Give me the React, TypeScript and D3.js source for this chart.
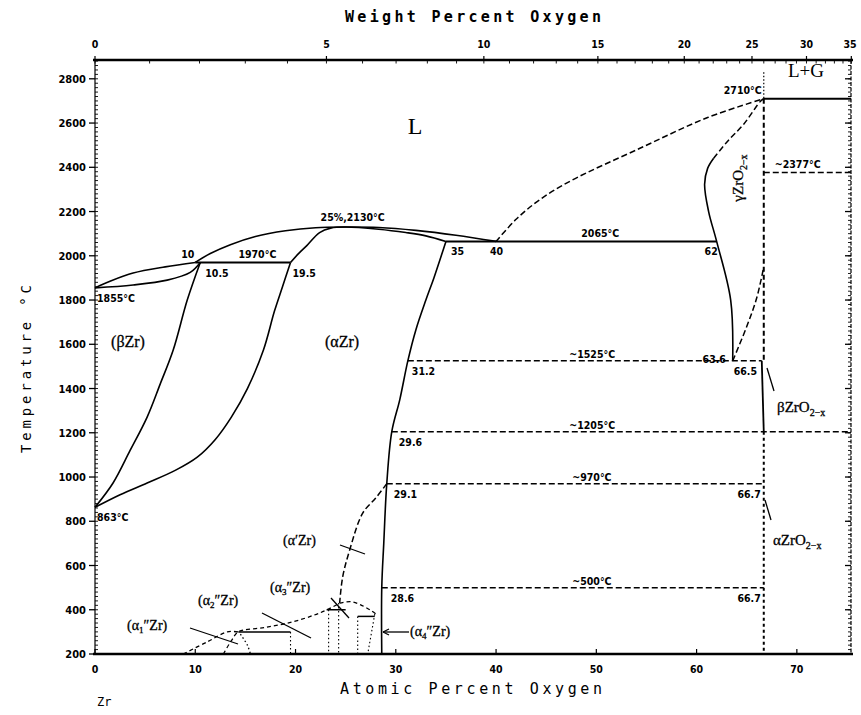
import React from "react";
import * as d3 from "d3";

const WIDTH = 861;
const HEIGHT = 715;

// Axis ticks
const tempTicks = [200, 400, 600, 800, 1000, 1200, 1400, 1600, 1800, 2000, 2200, 2400, 2600, 2800];
const atomicTicks = [0, 10, 20, 30, 40, 50, 60, 70];
const weightTicks = [0, 5, 10, 15, 20, 25, 30, 35];

type Pt = [number, number];

// Phase boundaries as [atomic % O, temperature °C]
const betaLiquidus: Pt[] = [[0, 1855], [1.5, 1885], [3.8, 1922], [7, 1950], [10, 1970]];
const betaSolidus: Pt[] = [[0, 1855], [3.8, 1868], [7.2, 1890], [9.5, 1925], [10.5, 1970]];
const betaTransus: Pt[] = [[0, 863], [1.8, 973], [3.5, 1120], [5.2, 1271], [6.5, 1420], [7.8, 1574], [9.2, 1800], [10.5, 1970]];
const alphaSolvus: Pt[] = [[0, 863], [2.5, 920], [5.2, 973], [8, 1030], [10.2, 1090], [12, 1170], [13.6, 1271], [15.2, 1400], [16.8, 1574], [17.9, 1750], [18.7, 1860], [19.5, 1970]];
const alphaLiquidus: Pt[] = [[10, 1970], [11.5, 2010], [13.5, 2050], [16, 2087], [19, 2113], [22, 2127], [25, 2130], [28.3, 2128], [32, 2115], [36, 2093], [40, 2065]];
const alphaSolidus: Pt[] = [[19.5, 1970], [20.3, 2010], [21.1, 2045], [22.4, 2105], [23.5, 2125], [25, 2130], [28.3, 2120], [31, 2105], [33, 2090], [35, 2065]];
const alphaOxideBoundary: Pt[] = [[35, 2065], [33.8, 1900], [33, 1800], [32, 1665], [31.2, 1525], [30.4, 1350], [29.6, 1205], [29.1, 970], [28.8, 700], [28.6, 500], [28.6, 200]];
const oxideLiquidus: Pt[] = [[40, 2065], [42, 2165], [44.4, 2255], [47.5, 2340], [54.4, 2487], [61.1, 2625], [66.7, 2710]];
const gammaLeftSolid: Pt[] = [[63.6, 1525], [63.4, 1800], [62, 2065], [61.2, 2200], [60.8, 2323], [61.1, 2395], [61.7, 2441]];
const gammaLeftDashed: Pt[] = [[61.7, 2441], [63.1, 2518], [64.7, 2595], [66.4, 2700], [66.7, 2710]];
const gammaRight: Pt[] = [[63.6, 1525], [65.0, 1680], [66.0, 1810], [66.7, 1950]];
const betaOxideLeft: Pt[] = [[66.5, 1525], [66.7, 1205]];

// Low-temperature ordered phases
const alphaPrime: Pt[] = [[29.1, 970], [28, 905], [26.7, 837], [25.4, 670], [24.7, 548], [24.4, 430]];
const alpha1Dome: Pt[] = [[8.8, 200], [11.2, 255], [13.2, 300], [14.3, 300]];
const alpha1Right: Pt[] = [[14.5, 290], [15.2, 240], [15.5, 200]];
const alpha2Dome: Pt[] = [[12.8, 200], [13.6, 260], [14.3, 300], [17, 320], [19.7, 345], [21.8, 375], [23.1, 399], [24.4, 430]];
const alpha3Dome: Pt[] = [[24.4, 430], [25.5, 437], [26.5, 422], [27.5, 397], [28.2, 375]];
const orderedTies: { t: number; from: number; to: number }[] = [
  { t: 300, from: 14.3, to: 19.5 },
  { t: 400, from: 23.1, to: 25.0 },
  { t: 370, from: 26.2, to: 27.9 },
];
const orderedDrops: Pt[][] = [
  [[19.5, 300], [19.5, 200]],
  [[23.3, 400], [23.3, 200]],
  [[24.3, 430], [24.3, 200]],
  [[26.2, 370], [26.2, 200]],
  [[27.9, 380], [27.2, 200]],
];

// Invariant and transformation isotherms
const isotherms: { t: number; from: number; to: number; dashed: boolean }[] = [
  { t: 1970, from: 10, to: 19.5, dashed: false },
  { t: 2065, from: 35, to: 62, dashed: false },
  { t: 2710, from: 66.7, to: 75.4, dashed: false },
  { t: 2377, from: 66.7, to: 75.4, dashed: true },
  { t: 1525, from: 31.2, to: 66.5, dashed: true },
  { t: 1205, from: 29.6, to: 75.4, dashed: true },
  { t: 970, from: 29.1, to: 66.7, dashed: true },
  { t: 500, from: 28.6, to: 66.7, dashed: true },
];

const x = d3.scaleLinear().domain([0, 75.4]).range([95, 851]);
const y = d3.scaleLinear().domain([200, 2885]).range([654, 60]);

const curve = d3
  .line<Pt>()
  .x((d) => x(d[0]))
  .y((d) => y(d[1]))
  .curve(d3.curveCatmullRom.alpha(0.5));
const straight = d3
  .line<Pt>()
  .x((d) => x(d[0]))
  .y((d) => y(d[1]));

// weight % O -> atomic % O for the Zr–O system
const wtToAt = (w: number) => {
  const o = w / 15.999;
  const z = (100 - w) / 91.224;
  return (o / (o + z)) * 100;
};

const NUM = "'DejaVu Sans Condensed', 'DejaVu Sans', sans-serif";
const SERIF = "'Liberation Serif', 'DejaVu Serif', serif";
const MONO = "'DejaVu Sans Mono', 'Liberation Mono', monospace";

const DASH = "6,3";
const DOT = "1.5,2.5";

function Num({ x: px, y: py, children, anchor = "start" }: { x: number; y: number; children: React.ReactNode; anchor?: string }) {
  return (
    <text x={px} y={py} fontFamily={NUM} fontWeight="bold" fontSize={10.5} textAnchor={anchor as any} fill="#000">
      {children}
    </text>
  );
}

function Ordered({ px, py, n }: { px: number; py: number; n: string }) {
  return (
    <text x={px} y={py} fontFamily={SERIF} fontSize={14} fill="#000" stroke="#000" strokeWidth={0.3}>
      (α<tspan dy={3} fontSize={9}>{n}</tspan>
      <tspan dy={-3}>″Zr)</tspan>
    </text>
  );
}

export default function App() {
  const minorTemps = d3.range(200, 2881, 20);
  const minorWeights = d3.range(0, 36, 1);

  return (
    <svg
      width={WIDTH}
      height={HEIGHT}
      viewBox={`0 0 ${WIDTH} ${HEIGHT}`}
      style={{ display: "block", background: "#fff", position: "absolute", left: 0, top: 0 }}
    >
      <rect x={0} y={0} width={WIDTH} height={HEIGHT} fill="#fff" />

      {/* Frame */}
      <line x1={93} x2={853} y1={y(2885)} y2={y(2885)} stroke="#000" strokeWidth={2.5} />
      <line x1={93} x2={853} y1={y(200)} y2={y(200)} stroke="#000" strokeWidth={2.5} />
      <line x1={x(0)} x2={x(0)} y1={y(2885)} y2={y(200)} stroke="#000" strokeWidth={1.2} />
      <line x1={x(75.4)} x2={x(75.4)} y1={y(2885)} y2={y(200)} stroke="#000" strokeWidth={1.2} strokeDasharray="4,1.5" />

      {/* Temperature axis */}
      {minorTemps.map((t) => (
        <g key={`mt${t}`}>
          <line x1={x(0)} x2={x(0) + 3} y1={y(t)} y2={y(t)} stroke="#000" strokeWidth={0.9} />
          <line x1={x(75.4)} x2={x(75.4) - 3} y1={y(t)} y2={y(t)} stroke="#000" strokeWidth={0.9} />
        </g>
      ))}
      {tempTicks.map((t) => (
        <g key={`t${t}`}>
          <line x1={x(0) - 6} x2={x(0)} y1={y(t)} y2={y(t)} stroke="#000" strokeWidth={1.3} />
          <line x1={x(75.4) - 6} x2={x(75.4)} y1={y(t)} y2={y(t)} stroke="#000" strokeWidth={1.3} />
          <text x={x(0) - 9} y={y(t) + 4} fontFamily={NUM} fontWeight="bold" fontSize={11} textAnchor="end">
            {t}
          </text>
        </g>
      ))}
      <text
        transform={`translate(31, 369) rotate(-90)`}
        fontFamily={MONO}
        fontSize={14}
        textAnchor="middle"
        textLength={168}
        lengthAdjust="spacing"
      >
        Temperature °C
      </text>

      {/* Atomic percent axis */}
      {atomicTicks.map((a) => (
        <g key={`a${a}`}>
          <line x1={x(a)} x2={x(a)} y1={y(200)} y2={y(200) - 5} stroke="#000" strokeWidth={1.2} />
          <text x={x(a)} y={673} fontFamily={NUM} fontWeight="bold" fontSize={10.5} textAnchor="middle">
            {a}
          </text>
        </g>
      ))}
      <text x={471} y={694} fontFamily={MONO} fontSize={15} textAnchor="middle" textLength={262} lengthAdjust="spacing">
        Atomic Percent Oxygen
      </text>
      <text x={97} y={706} fontFamily={MONO} fontSize={12}>
        Zr
      </text>

      {/* Weight percent axis */}
      {minorWeights.map((w) => (
        <line key={`mw${w}`} x1={x(wtToAt(w))} x2={x(wtToAt(w))} y1={y(2885)} y2={y(2885) + 3.5} stroke="#000" strokeWidth={0.9} />
      ))}
      {weightTicks.map((w) => (
        <g key={`w${w}`}>
          <line x1={x(wtToAt(w))} x2={x(wtToAt(w))} y1={y(2885)} y2={y(2885) - 4} stroke="#000" strokeWidth={1.2} />
          <text x={Math.min(x(wtToAt(w)), 850)} y={48} fontFamily={NUM} fontWeight="bold" fontSize={10.5} textAnchor="middle">
            {w}
          </text>
        </g>
      ))}
      <text x={473} y={22} fontFamily={MONO} fontWeight="bold" fontSize={15} textAnchor="middle" textLength={256} lengthAdjust="spacing">
        Weight Percent Oxygen
      </text>

      {/* Solid phase boundaries */}
      <g fill="none" stroke="#000" strokeWidth={1.6}>
        <path d={curve(betaLiquidus) ?? ""} />
        <path d={curve(betaSolidus) ?? ""} />
        <path d={curve(betaTransus) ?? ""} />
        <path d={curve(alphaSolvus) ?? ""} />
        <path d={curve(alphaLiquidus) ?? ""} />
        <path d={curve(alphaSolidus) ?? ""} />
        <path d={curve(alphaOxideBoundary) ?? ""} />
        <path d={curve(gammaLeftSolid) ?? ""} />
        <path d={straight(betaOxideLeft) ?? ""} strokeWidth={1.8} />
      </g>

      {/* Dashed phase boundaries */}
      <g fill="none" stroke="#000" strokeWidth={1.5} strokeDasharray={DASH}>
        <path d={curve(oxideLiquidus) ?? ""} />
        <path d={curve(gammaLeftDashed) ?? ""} />
        <path d={curve(gammaRight) ?? ""} />
        <path d={curve(alphaPrime) ?? ""} />
      </g>

      {/* ZrO2 composition line */}
      <g fill="none" stroke="#000">
        <line x1={x(66.7)} x2={x(66.7)} y1={y(2830)} y2={y(2710)} strokeWidth={1.2} strokeDasharray="1.5,2" />
        <line x1={x(66.7)} x2={x(66.7)} y1={y(2710)} y2={y(1525)} strokeWidth={2} strokeDasharray="5,3" />
        <line x1={x(66.7)} x2={x(66.7)} y1={y(1205)} y2={y(200)} strokeWidth={2} strokeDasharray="3,3" />
      </g>

      {/* Isotherms */}
      {isotherms.map((iso) => (
        <line
          key={`iso${iso.t}`}
          x1={x(iso.from)}
          x2={x(iso.to)}
          y1={y(iso.t)}
          y2={y(iso.t)}
          stroke="#000"
          strokeWidth={iso.dashed ? 1.5 : 2}
          strokeDasharray={iso.dashed ? DASH : undefined}
        />
      ))}

      {/* Ordered α'' regions */}
      <g fill="none" stroke="#000" strokeWidth={1.3}>
        <path d={curve(alpha1Dome) ?? ""} strokeDasharray="4,3" />
        <path d={curve(alpha1Right) ?? ""} strokeDasharray={DOT} />
        <path d={curve(alpha2Dome) ?? ""} strokeDasharray="4,3" />
        <path d={curve(alpha3Dome) ?? ""} strokeDasharray="4,3" />
        {orderedTies.map((o) => (
          <line key={`tie${o.t}`} x1={x(o.from)} x2={x(o.to)} y1={y(o.t)} y2={y(o.t)} strokeWidth={1.5} />
        ))}
        {orderedDrops.map((d, i) => (
          <path key={`drop${i}`} d={straight(d) ?? ""} strokeDasharray={DOT} strokeWidth={1.1} />
        ))}
      </g>

      {/* Leader lines */}
      <g stroke="#000" strokeWidth={1.3} fill="none">
        <line x1={340} y1={545} x2={365} y2={554} />
        <line x1={331} y1={598} x2={349} y2={618} />
        <line x1={262} y1={613} x2={311} y2={638} />
        <line x1={190} y1={628} x2={238} y2={644} />
        <line x1={383} y1={632} x2={409} y2={632} />
        <path d="M383,632 l6,-3 M383,632 l6,3" />
        <line x1={767} y1={368} x2={774} y2={391} />
        <line x1={765} y1={500} x2={771} y2={520} />
      </g>

      {/* Region labels */}
      <text x={415} y={134} fontFamily={SERIF} fontSize={24} textAnchor="middle">
        L
      </text>
      <text x={806} y={77} fontFamily={SERIF} fontSize={19} textAnchor="middle">
        L+G
      </text>
      <text x={128} y={347} fontFamily={SERIF} fontSize={16} textAnchor="middle" stroke="#000" strokeWidth={0.3}>
        (βZr)
      </text>
      <text x={342} y={347} fontFamily={SERIF} fontSize={16} textAnchor="middle" stroke="#000" strokeWidth={0.3}>
        (αZr)
      </text>
      <text x={283} y={545} fontFamily={SERIF} fontSize={14} stroke="#000" strokeWidth={0.3}>
        (α′Zr)
      </text>
      <Ordered px={270} py={592} n="3" />
      <Ordered px={198} py={605} n="2" />
      <Ordered px={127} py={630} n="1" />
      <Ordered px={410} py={636} n="4" />
      <text transform={`translate(743, 178) rotate(-90)`} fontFamily={SERIF} fontSize={15} textAnchor="middle" stroke="#000" strokeWidth={0.3}>
        γZrO<tspan dy={4} fontSize={10}>2−x</tspan>
      </text>
      <text x={777} y={412} fontFamily={SERIF} fontSize={15} stroke="#000" strokeWidth={0.3}>
        βZrO<tspan dy={4} fontSize={10}>2−x</tspan>
      </text>
      <text x={773} y={545} fontFamily={SERIF} fontSize={15} stroke="#000" strokeWidth={0.3}>
        αZrO<tspan dy={4} fontSize={10}>2−x</tspan>
      </text>

      {/* Point and isotherm annotations */}
      <Num x={x(0) + 2} y={y(1855) + 14}>1855°C</Num>
      <Num x={x(0) + 2} y={y(863) + 14}>863°C</Num>
      <Num x={x(10) - 14} y={y(1970) - 4}>10</Num>
      <Num x={x(10.5) + 5} y={y(1970) + 15}>10.5</Num>
      <Num x={x(19.5) + 2} y={y(1970) + 15}>19.5</Num>
      <Num x={x(14.5) - 2} y={y(1970) - 4}>1970°C</Num>
      <Num x={x(22.5)} y={y(2130) - 6}>25%,2130°C</Num>
      <Num x={x(35.5)} y={y(2065) + 14}>35</Num>
      <Num x={x(39.4)} y={y(2065) + 14}>40</Num>
      <Num x={x(48.5)} y={y(2065) - 4}>2065°C</Num>
      <Num x={x(60.8)} y={y(2065) + 14}>62</Num>
      <Num x={x(66.5)} y={y(2710) - 5} anchor="end">2710°C</Num>
      <Num x={x(67.8)} y={y(2377) - 4}>~2377°C</Num>
      <Num x={x(47.3)} y={y(1525) - 3}>~1525°C</Num>
      <Num x={x(60.6)} y={y(1525) + 2}>63.6</Num>
      <Num x={x(63.7)} y={y(1525) + 14}>66.5</Num>
      <Num x={x(31.6)} y={y(1525) + 14}>31.2</Num>
      <Num x={x(47.3)} y={y(1205) - 3}>~1205°C</Num>
      <Num x={x(30.3)} y={y(1205) + 14}>29.6</Num>
      <Num x={x(47.6)} y={y(970) - 3}>~970°C</Num>
      <Num x={x(29.8)} y={y(970) + 14}>29.1</Num>
      <Num x={x(66.4)} y={y(970) + 14} anchor="end">66.7</Num>
      <Num x={x(47.6)} y={y(500) - 3}>~500°C</Num>
      <Num x={x(29.5)} y={y(500) + 14}>28.6</Num>
      <Num x={x(66.4)} y={y(500) + 14} anchor="end">66.7</Num>
    </svg>
  );
}
